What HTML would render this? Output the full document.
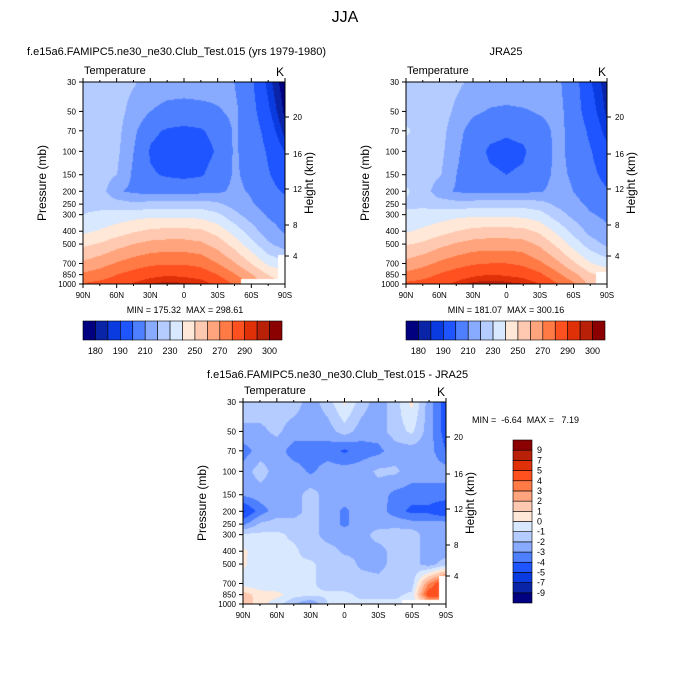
<!DOCTYPE html>
<html><head><meta charset="utf-8">
<style>
html,body{margin:0;padding:0;background:#fff;}
#root{position:relative;width:691px;height:690px;overflow:hidden;font-family:"Liberation Sans",sans-serif;}
canvas{position:absolute;}
svg{position:absolute;left:0;top:0;}
text{white-space:pre;}
</style></head>
<body>
<div id="root">
<canvas id="c1" width="202" height="202" style="left:83px;top:82px"></canvas>
<canvas id="c2" width="201" height="202" style="left:406px;top:82px"></canvas>
<canvas id="c3" width="203" height="202" style="left:243px;top:402px"></canvas>
<svg id="s" width="691" height="690"></svg>
</div>
<script>
// ---- data ----
const lats = ["90N","75N","60N","45N","30N","15N","0","15S","30S","45S","60S","75S","90S"];
const pLevels = [30,50,70,100,150,200,250,300,400,500,700,850,1000];
const pTicks = [30,50,70,100,150,200,250,300,400,500,700,850,1000];
const latTickLabels = ["90N","60N","30N","0","30S","60S","90S"];
const heightTicks = [20,16,12,8,4];
const heightTickOffsets = [35,72,107,143,174];
const tLevels = [180,185,190,200,210,220,230,240,250,260,270,280,290,295,300];
const tLabels = ["180","190","210","230","250","270","290","300"];
const dLevels = [-9,-7,-5,-4,-3,-2,-1,0,1,2,3,4,5,7,9];
const dLabels = ["-9","-7","-5","-4","-3","-2","-1","0","1","2","3","4","5","7","9"];
const colors = ["#000080","#0a24a8","#0a3be0","#1f55ff","#4d7fff","#88aaff","#b4ccff","#d8e8ff","#ffe8d8","#ffc8b0","#ffa47c","#ff7a45","#ff5020","#e03008","#b82008","#8b0000"];
const tModel = [
[225,225,224,221,216,215,215,215,214,210,202,188,176],
[226,226,224,216,210,207,206,207,209,212,204,192,179],
[226,226,223,212,202,199,198,199,203,211,206,196,183],
[226,226,222,210,199,196,195,196,201,211,207,199,190],
[226,225,220,208,201,199,198,199,204,211,208,201,195],
[227,225,211,208,206,206,206,207,208,212,209,203,199],
[228,227,225,222,224,225,225,225,222,216,211,206,203],
[230,232,234,236,237,237,237,236,232,223,215,209,206],
[238,241,245,249,252,253,253,252,246,236,225,214,209],
[248,251,256,260,263,264,264,262,256,246,234,222,215],
[262,266,271,275,278,279,279,277,270,261,250,238,232],
[272,275,280,284,287,289,288,286,280,271,261,250,245],
[281,283,286,291,295,297,296,294,288,279,270,255,250]];
const tObs = [
[226,226,225,222,218,217,217,217,216,212,205,191,182],
[227,227,225,218,212,209,208,209,211,213,206,194,184],
[231,227,224,214,205,202,201,202,206,212,208,198,187],
[227,227,223,212,203,199,198,199,204,212,208,201,193],
[227,226,221,210,203,201,200,201,206,212,209,203,197],
[231,226,213,209,207,207,207,208,209,213,210,205,201],
[229,228,226,224,225,226,226,226,224,218,213,208,205],
[231,233,235,237,238,238,238,237,234,225,217,211,208],
[239,242,246,250,253,254,254,253,248,238,227,217,212],
[249,252,257,261,264,265,265,264,258,248,236,225,218],
[263,267,272,276,279,280,280,278,272,263,252,241,235],
[273,276,281,285,288,290,289,287,282,273,263,252,248],
[282,284,287,292,297,298,297,295,290,281,272,258,253]];
const tDiff = [
[-1.5,-1.5,-1.5,-1.5,-2.5,-1.5,0.2,-1.5,-2.5,-1.5,0.3,-2.5,-4.5],
[-2.2,-2.2,-1.8,-2.5,-2.5,-2.5,-1.5,-2.5,-2.5,-1.5,-0.8,-2.5,-4.5],
[-3.5,-2.5,-2.5,-3.5,-3.5,-3.5,-4.2,-3.5,-3.3,-2.5,-2.5,-2.5,-4],
[-2.5,-1.5,-2.5,-2.5,-3.2,-2.5,-2.5,-2.5,-1.8,-1.8,-2.5,-2.5,-2.5],
[-2.8,-2.5,-2.5,-2.5,-1.5,-2.5,-2.5,-2.5,-2.5,-3.3,-3.5,-3.5,-3.5],
[-5.2,-3.5,-2.5,-2.5,-1.5,-2.5,-3.2,-2.5,-2.5,-3.5,-4.3,-4.3,-5],
[-3.2,-1.8,-1.5,-1.5,-1.5,-2.5,-3.2,-2.5,-2.5,-2.3,-2.5,-2.5,-2.5],
[-0.8,-0.8,-0.8,-1.2,-1.5,-2.5,-2.5,-2.5,-1.5,-1.5,-1.5,-2.5,-2.5],
[0.2,-0.6,-0.8,-0.8,-1.5,-1.5,-2.2,-2.2,-2.5,-1.5,-1.5,-2.5,-2.5],
[0.2,-0.8,-0.8,-0.8,-0.8,-1.5,-1.5,-2.2,-2.5,-1.5,-1.5,-2.5,-1.5],
[-0.5,-0.8,-0.8,-0.8,-0.8,-1.5,-1.5,-1.5,-1.5,-1.5,-1.5,3,5.5],
[1.5,0.5,0.3,-0.5,-0.8,-0.8,-0.8,-1.2,-1.2,-1.2,-0.8,5,5],
[2,0.3,-0.5,-2,-3,-1,-0.8,-0.8,-0.8,-0.8,-0.5,0.5,0.5]];

// ---- helpers ----
const L0=Math.log(30), L1=Math.log(1000);
function yOfP(p,h){return (Math.log(p)-L0)/(L1-L0)*h;}
function bandIndex(v,lev){let i=0;while(i<lev.length&&v>=lev[i])i++;return i;}
function sample(grid,fx,py,h){
  const lp=L0+py/h*(L1-L0);
  let j=0;while(j<pLevels.length-2&&Math.log(pLevels[j+1])<lp)j++;
  const a=Math.log(pLevels[j]),b=Math.log(pLevels[j+1]);
  let fy=(lp-a)/(b-a);fy=Math.max(0,Math.min(1,fy));
  let i=Math.min(Math.floor(fx),lats.length-2);let tx=fx-i;
  const v00=grid[j][i],v01=grid[j][i+1],v10=grid[j+1][i],v11=grid[j+1][i+1];
  return (v00*(1-tx)+v01*tx)*(1-fy)+(v10*(1-tx)+v11*tx)*fy;
}
function drawField(id,grid,lev,missing){
  const c=document.getElementById(id),ctx=c.getContext('2d');
  const w=c.width,h=c.height;
  for(let py=0;py<h;py++)for(let px=0;px<w;px++){
    const v=sample(grid,px/(w-1)*(lats.length-1),py+0.5,h);
    ctx.fillStyle=colors[bandIndex(v,lev)];ctx.fillRect(px,py,1,1);
  }
  ctx.fillStyle="#fff";
  missing.forEach(r=>ctx.fillRect(r[0],r[1],r[2],r[3]));
}
drawField('c1',tModel,tLevels,[[158,197,44,5],[195,173,7,29]]);
drawField('c2',tObs,tLevels,[[190,190,11,12]]);
drawField('c3',tDiff,dLevels,[[159,198,44,4],[196,174,7,28]]);

const NS="http://www.w3.org/2000/svg";
const svg=document.getElementById('s');
function el(tag,attrs,parent){const e=document.createElementNS(NS,tag);for(const k in attrs)e.setAttribute(k,attrs[k]);(parent||svg).appendChild(e);return e;}
function txt(x,y,s,size,anchor,parent,extra){const t=el('text',Object.assign({x:x,y:y,'font-size':size,'text-anchor':anchor||'start','font-family':'Liberation Sans, sans-serif',fill:'#000'},extra||{}),parent);t.textContent=s;return t;}

function axes(x0,y0,w,h,name,title,ylab){
  const g=el('g',{});
  
  
  el('rect',{x:x0,y:y0,width:w,height:h,fill:'none',stroke:'#000','stroke-width':1},g);
  for(let k=0;k<=12;k++){
    const x=x0+k*w/12,len=(k%2==0)?4:2;
    el('line',{x1:x,y1:y0+h,x2:x,y2:y0+h+len,stroke:'#000'},g);
    el('line',{x1:x,y1:y0,x2:x,y2:y0-len,stroke:'#000'},g);
  }
  latTickLabels.forEach((s,k)=>{const t=txt(x0+k*w/6,y0+h+14,s,8,'middle',g);});
  pTicks.forEach(p=>{const y=y0+yOfP(p,h);el('line',{x1:x0-4,y1:y,x2:x0,y2:y,stroke:'#000'},g);
    const t=txt(x0-7,y+3,String(p),8,'end',g);});
  heightTicks.forEach((hh,k)=>{const y=y0+heightTickOffsets[k];el('line',{x1:x0+w,y1:y,x2:x0+w+4,y2:y,stroke:'#000'},g);
    const t=txt(x0+w+8,y+3,String(hh),8,'start',g);});
  const t1=txt(x0+1,y0-8,'Temperature',11,'start',g);
  const t2=txt(x0+w-1,y0-6,'K',12,'end',g);
  const yl=txt(0,0,'Pressure (mb)',12,'middle',g,{transform:`translate(${x0-37},${y0+101}) rotate(-90)`});
  
  const hl=txt(0,0,'Height (km)',12,'middle',g,{transform:`translate(${x0+w+28},${y0+101}) rotate(-90)`});
  
  const tt=txt(title[0],title[1],title[2],11,title[3],g);
  if(ylab){const m=txt(ylab[0],ylab[1],ylab[2],9,ylab[3],g);}
}
axes(83,82,202,202,'model-panel',[27,55,'f.e15a6.FAMIPC5.ne30_ne30.Club_Test.015 (yrs 1979-1980)','start'],[185,313,'MIN = 175.32  MAX = 298.61','middle']);
axes(406,82,201,202,'jra25-panel',[506,55,'JRA25','middle'],[506,313,'MIN = 181.07  MAX = 300.16','middle']);
axes(243,402,203,202,'difference-panel',[207,378,'f.e15a6.FAMIPC5.ne30_ne30.Club_Test.015 - JRA25','start'],[472,423,'MIN =  -6.64  MAX =   7.19','start']);

const main=txt(345,22,'JJA',16,'middle');



function hbar(x0,y0,w,h,name){
  const g=el('g',{});
  
  
  const bw=w/colors.length;
  colors.forEach((c,i)=>{const r=el('rect',{x:x0+i*bw,y:y0,width:bw,height:h,fill:c,stroke:'#000','stroke-width':0.6},g);
    });
  tLabels.forEach((s,k)=>{const t=txt(x0+(2*k+1)*bw,y0+h+14,s,9,'middle',g);});
}
hbar(83,321,199,19,'model-colorbar');
hbar(406,321,199,19,'jra25-colorbar');

(function(){
  const g=el('g',{});
  
  
  const x0=513,y0=440,w=19,h=163,bh=h/colors.length;
  colors.forEach((c,i)=>{const r=el('rect',{x:x0,y:y0+h-(i+1)*bh,width:w,height:bh,fill:c,stroke:'#000','stroke-width':0.6},g);
    });
  dLabels.forEach((s,k)=>{const t=txt(x0+w+5,y0+h-(k+1)*bh+3,s,9,'start',g);});
})();
</script>
</body></html>
